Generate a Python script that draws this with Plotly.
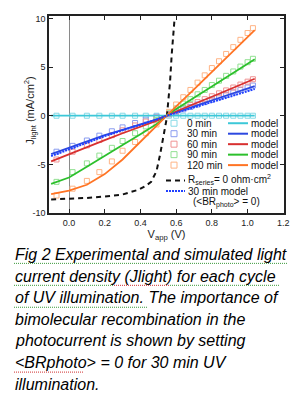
import plotly.graph_objects as go

# ---------------- data ----------------
V_model = [-0.1, 0.0, 0.1, 0.2, 0.3, 0.4, 0.45, 0.5, 0.55, 0.6, 0.7, 0.8, 0.9, 1.04]
J_model_0 = [0, 0, 0, 0, 0, 0, 0, 0, 0, 0, 0, 0, 0, 0]
J_model_30 = [-3.95, -3.3, -2.65, -2.0, -1.45, -0.9, -0.62, -0.33, 0.05, 0.35, 0.95, 1.6, 2.2, 3.05]
J_model_60 = [-4.7, -3.95, -3.2, -2.5, -1.8, -1.15, -0.8, -0.45, 0.05, 0.45, 1.2, 1.95, 2.7, 3.8]
J_model_90 = [-7.0, -6.35, -5.25, -4.1, -3.0, -1.9, -1.35, -0.75, 0.1, 0.7, 1.85, 3.0, 4.15, 5.8]
J_model_120 = [-8.05, -7.7, -7.1, -6.0, -4.5, -2.65, -1.75, -0.85, 0.05, 0.95, 2.7, 4.5, 6.3, 8.8]
J_model_30_noBR = [-4.15, -3.45, -2.8, -2.1, -1.5, -0.95, -0.65, -0.35, 0.03, 0.3, 0.85, 1.4, 1.95, 2.75]

V_rs0 = [-0.1, 0.0, 0.1, 0.2, 0.3, 0.39, 0.43, 0.46, 0.49, 0.51, 0.53, 0.547, 0.556, 0.566, 0.575, 0.59]
J_rs0 = [-8.6, -8.55, -8.45, -8.3, -8.1, -7.6, -7.2, -6.8, -5.7, -4.0, -2.0, -0.3, 1.5, 3.5, 6.25, 9.7]

V_exp = [-0.07, 0.02, 0.1, 0.17, 0.24, 0.30, 0.37, 0.43, 0.49,
         0.56, 0.60, 0.64, 0.68, 0.72, 0.76, 0.80, 0.84, 0.88, 0.92, 0.96, 1.00, 1.03]
J_exp_0 = [0] * 22
J_exp_30 = [-3.7, -3.1, -2.55, -2.05, -1.6, -1.2, -0.75, -0.4, -0.1,
            0.15, 0.4, 0.65, 0.9, 1.15, 1.4, 1.65, 1.9, 2.15, 2.4, 2.65, 2.9, 3.1]
J_exp_60 = [-4.5, -3.7, -3.05, -2.5, -2.0, -1.5, -1.0, -0.6, -0.2,
            0.15, 0.5, 0.8, 1.1, 1.4, 1.7, 2.0, 2.3, 2.6, 2.9, 3.2, 3.5, 3.75]
J_exp_90 = [-6.8, -5.8, -4.9, -4.1, -3.3, -2.6, -1.8, -1.1, -0.45,
            0.3, 0.75, 1.25, 1.7, 2.2, 2.65, 3.15, 3.6, 4.1, 4.55, 5.05, 5.5, 5.85]
J_exp_120 = [-8.2, -7.5, -6.7, -5.8, -4.7, -3.6, -2.7, -1.8, -0.9,
             0.4, 1.15, 1.9, 2.65, 3.4, 4.15, 4.9, 5.6, 6.35, 7.05, 7.8, 8.5, 9.0]

series_names = ["0 min", "30 min", "60 min", "90 min", "120 min"]
x_tick_vals = [0.0, 0.2, 0.4, 0.6, 0.8, 1.0, 1.2]
x_tick_text = ["0.0", "0.2", "0.4", "0.6", "0.8", "1.0", "1.2"]
y_tick_vals = [-10, -5, 0, 5, 10]
y_tick_text = ["-10", "-5", "0", "5", "10"]

line_colors = ["#3cc8d8", "#2c48e0", "#d83030", "#2cc02c", "#ff7424"]
marker_colors = ["#86dae6", "#8a9cf0", "#f09494", "#92e092", "#ffb485"]

caption_lines = [
    "Fig 2 Experimental and simulated light",
    "current density (Jlight) for each cycle",
    "of UV illumination. The importance of",
    "bimolecular recombination in the",
    "photocurrent is shown by setting",
    "&lt;BRphoto&gt; = 0 for 30 min UV",
    "illumination.",
]

# ---------------- geometry ----------------
W, H = 303, 398
L, R, T, B = 49, 284, 16, 213.5
FONT = "Liberation Sans, Arial, sans-serif"


def px(x):
    return (x - L) / (R - L)


def py(y):
    return (B - y) / (B - T)


fig = go.Figure()

exp_series = [J_exp_0, J_exp_30, J_exp_60, J_exp_90, J_exp_120]
model_series = [J_model_0, J_model_30, J_model_60, J_model_90, J_model_120]

for i, js in enumerate(exp_series):
    fig.add_trace(go.Scatter(x=V_exp, y=js, mode="markers", showlegend=False,
                             marker=dict(symbol="square-open", size=5,
                                         color=marker_colors[i],
                                         line=dict(width=1, color=marker_colors[i]))))

fig.add_trace(go.Scatter(x=V_rs0, y=J_rs0, mode="lines", showlegend=False,
                         line=dict(color="#111111", width=2, dash="5px,4px")))

for i, js in enumerate(model_series):
    fig.add_trace(go.Scatter(x=V_model, y=js, mode="lines", showlegend=False,
                             line=dict(color=line_colors[i], width=1.8)))

fig.add_trace(go.Scatter(x=V_model, y=J_model_30_noBR, mode="lines", showlegend=False,
                         line=dict(color="#2040ff", width=2, dash="2px,1px")))

# ---------------- manual legend ----------------
shapes = []
annotations = []
LEG_FS = 10
row_y = [123.5, 134.0, 144.5, 155.0, 165.5]
for i, name in enumerate(series_names):
    yc = row_y[i]
    shapes.append(dict(type="rect", xref="paper", yref="paper",
                       x0=px(171), x1=px(177), y0=py(yc + 3), y1=py(yc - 3),
                       line=dict(color=marker_colors[i], width=1)))
    annotations.append(dict(text=name, xref="paper", yref="paper", x=px(185), y=py(yc),
                            xanchor="left", yanchor="middle", showarrow=False,
                            font=dict(family=FONT, size=LEG_FS, color="#111")))
    shapes.append(dict(type="line", xref="paper", yref="paper",
                       x0=px(228), x1=px(248), y0=py(yc), y1=py(yc),
                       line=dict(color=line_colors[i], width=2)))
    annotations.append(dict(text="model", xref="paper", yref="paper", x=px(249), y=py(yc),
                            xanchor="left", yanchor="middle", showarrow=False,
                            font=dict(family=FONT, size=LEG_FS, color="#111")))

shapes.append(dict(type="line", xref="paper", yref="paper",
                   x0=px(166), x1=px(185), y0=py(181), y1=py(181),
                   line=dict(color="#111", width=2, dash="5px,4px")))
annotations.append(dict(text="R<sub>series</sub>= 0 ohm·cm<sup>2</sup>", xref="paper", yref="paper",
                        x=px(186), y=py(180), xanchor="left", yanchor="middle", showarrow=False,
                        font=dict(family=FONT, size=LEG_FS, color="#111")))
shapes.append(dict(type="line", xref="paper", yref="paper",
                   x0=px(166), x1=px(185), y0=py(191.5), y1=py(191.5),
                   line=dict(color="#2040ff", width=2, dash="2px,1px")))
annotations.append(dict(text="30 min model", xref="paper", yref="paper",
                        x=px(186), y=py(191.5), xanchor="left", yanchor="middle", showarrow=False,
                        font=dict(family=FONT, size=LEG_FS, color="#111")))
annotations.append(dict(text="(&lt;BR<sub>photo</sub>&gt; = 0)", xref="paper", yref="paper",
                        x=px(191), y=py(203), xanchor="left", yanchor="middle", showarrow=False,
                        font=dict(family=FONT, size=LEG_FS, color="#111")))

# ---------------- y-axis title (placed close to tick labels as in the original) ----------------
annotations.append(dict(text="J<sub>light</sub> (mA/cm<sup>2</sup>)", xref="paper", yref="paper",
                        x=px(30), y=py(111), xanchor="center", yanchor="middle", textangle=-90,
                        showarrow=False, font=dict(family=FONT, size=11, color="#222")))

# ---------------- caption (one annotation per line) ----------------
cap_y0, cap_step = 255.0, 21.7
for k, line in enumerate(caption_lines):
    annotations.append(dict(text=line, xref="paper", yref="paper", x=px(13), y=py(cap_y0 + k * cap_step),
                            xanchor="left", yanchor="middle", align="left", showarrow=False,
                            font=dict(family=FONT, size=16, color="#000", style="italic")))

# spell-check squiggles
squiggles = [
    (14, 288, 264, "#3a9a3a"),
    (14, 114, 286, "#3a9a3a"),
    (114, 170, 286, "#d03030"),
    (170, 280, 286, "#3a9a3a"),
    (14, 148, 308, "#3a9a3a"),
    (14, 83, 373, "#d03030"),
]
for x0, x1, yy, c in squiggles:
    shapes.append(dict(type="line", xref="paper", yref="paper",
                       x0=px(x0), x1=px(x1), y0=py(yy), y1=py(yy),
                       line=dict(color=c, width=1, dash="1px,1px")))

fig.update_layout(
    width=W, height=H,
    margin=dict(l=L, r=W - R, t=T, b=H - B),
    paper_bgcolor="white", plot_bgcolor="white",
    showlegend=False,
    font=dict(family=FONT, size=9, color="#222"),
    shapes=shapes, annotations=annotations,
)
fig.update_xaxes(range=[-0.112, 1.204], tickvals=x_tick_vals, ticktext=x_tick_text,
                 ticks="inside", ticklen=4, tickcolor="#222", mirror="allticks",
                 showline=True, linecolor="#222", linewidth=1.5, showgrid=False,
                 zeroline=True, zerolinecolor="#8a8a8a", zerolinewidth=1.2,
                 title=dict(text="V<sub>app</sub> (V)", font=dict(family=FONT, size=11, color="#222"),
                            standoff=2),
                 tickfont=dict(size=9))
fig.update_yaxes(range=[-10.0, 10.25], tickvals=y_tick_vals, ticktext=y_tick_text,
                 ticks="inside", ticklen=4, tickcolor="#222", mirror="allticks",
                 showline=True, linecolor="#222", linewidth=1.5, showgrid=False,
                 zeroline=False, tickfont=dict(size=9))

fig.write_html("out.html", config={"displayModeBar": False},
               post_script="document.body.style.margin='0px';document.body.style.overflow='hidden';")
